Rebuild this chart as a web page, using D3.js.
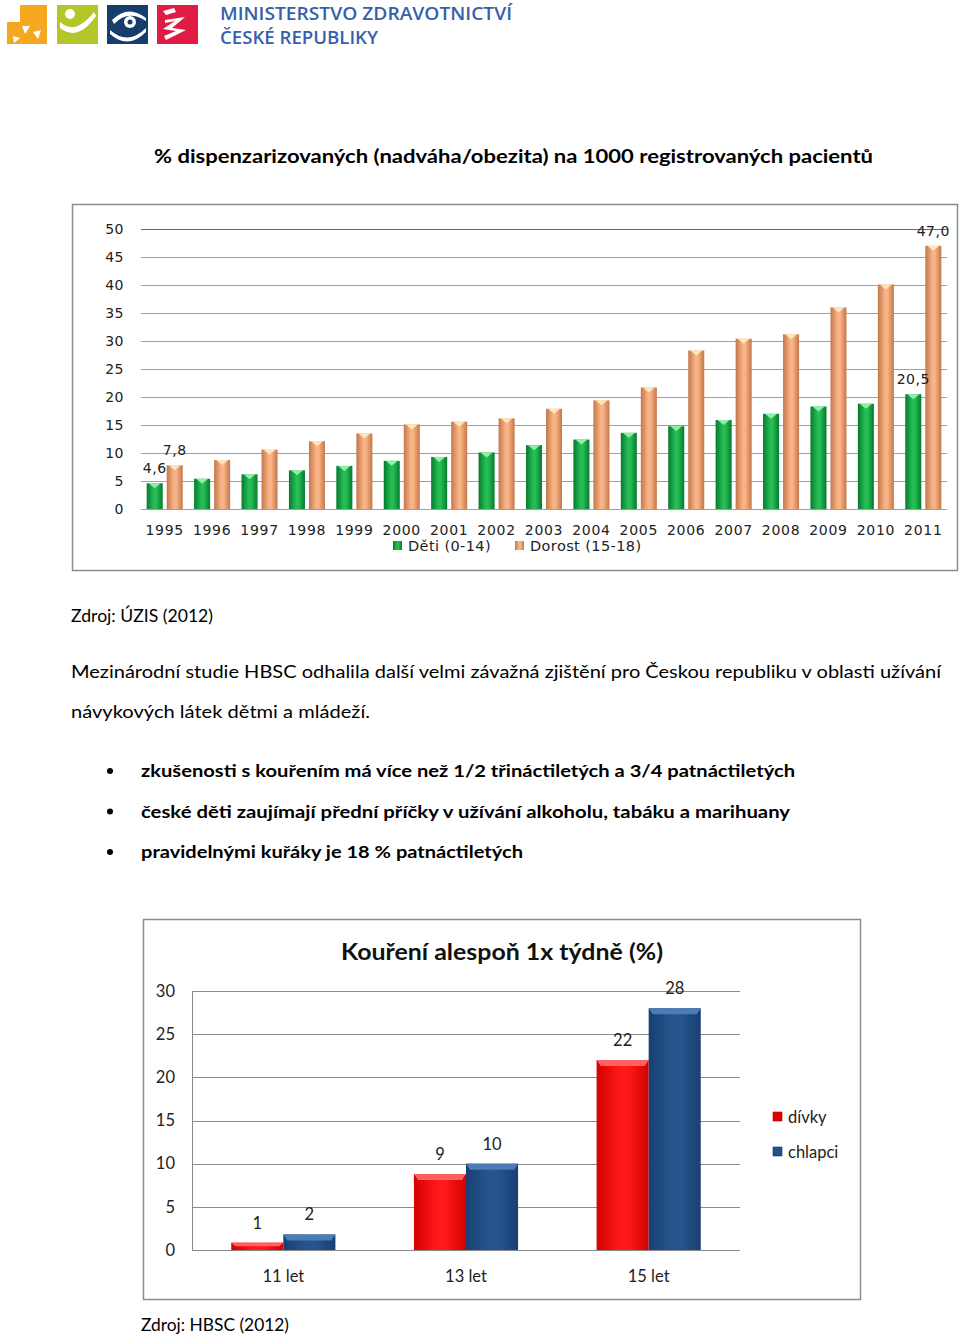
<!DOCTYPE html>
<html><head><meta charset="utf-8">
<script src="https://cdn.jsdelivr.net/npm/d3@7"></script>
<style>html,body{margin:0;padding:0;background:#fff}svg{display:block}</style>
</head><body>
<script>
// ---------- DATA ----------
const years = ["1995","1996","1997","1998","1999","2000","2001","2002","2003","2004","2005","2006","2007","2008","2009","2010","2011"];
const detiValues   = [4.6,5.4,6.2,6.9,7.7,8.6,9.3,10.1,11.4,12.4,13.6,14.8,15.9,17.0,18.3,18.8,20.5];
const dorostValues = [7.8,8.75,10.6,12.1,13.5,15.1,15.6,16.2,17.9,19.4,21.7,28.3,30.4,31.2,36.0,40.1,47.0];
const series1 = ["Děti (0-14)","Dorost (15-18)"];
const yTicks1 = [0,5,10,15,20,25,30,35,40,45,50];
const labeled1 = [["1995",0],["1995",1],["2011",0],["2011",1]];

const ages = ["11 let","13 let","15 let"];
const divkyValues = [0.85,8.8,22];
const chlapciValues = [1.8,10,28];
const series2 = ["dívky","chlapci"];
const yTicks2 = [0,5,10,15,20,25,30];

const W = 960, H = 1339;
const svg = d3.select("body").append("svg").attr("width",W).attr("height",H);
svg.append("rect").attr("width",W).attr("height",H).attr("fill","#fff");
const defs = svg.append("defs");

function hGrad(id, edge, mid){
  const g = defs.append("linearGradient").attr("id",id).attr("x1","0").attr("x2","1").attr("y1","0").attr("y2","0");
  g.append("stop").attr("offset","0%").attr("stop-color",edge);
  g.append("stop").attr("offset","45%").attr("stop-color",mid);
  g.append("stop").attr("offset","60%").attr("stop-color",mid);
  g.append("stop").attr("offset","100%").attr("stop-color",edge);
}
hGrad("gGreen","#067a2c","#26bd55");
hGrad("gOrange","#c4764a","#f8b486");
hGrad("gRed","#d40000","#ff1a1a");
hGrad("gBlue","#183f70","#27568f");

// ---------- LOGO ----------
const logo = svg.append("g");
logo.append("rect").attr("x",7).attr("y",5).attr("width",40).attr("height",39).attr("fill","#f5a81f");
logo.append("path").attr("d","M7,5 L20,5 L20,22 L7,22 Z").attr("fill","#fff");
logo.append("path").attr("d","M22,26 L30,26 L25,34 Z").attr("fill","#fff");
logo.append("path").attr("d","M33,32 L41,30 L38,39 Z").attr("fill","#fff");
logo.append("path").attr("d","M13,36 L20,38 L14,43 Z").attr("fill","#fff");
logo.append("rect").attr("x",57).attr("y",5).attr("width",41).attr("height",39).attr("fill","#b5c62a");
logo.append("circle").attr("cx",70).attr("cy",14).attr("r",5).attr("fill","#fff");
logo.append("path").attr("d","M60,22 Q75,36 94,12 L96,16 Q78,42 60,28 Z").attr("fill","#fff");
logo.append("rect").attr("x",107).attr("y",5).attr("width",41).attr("height",39).attr("fill","#153e6c");
logo.append("path").attr("d","M110,30 Q128,46 146,28 L146,32 Q128,50 110,34 Z").attr("fill","#fff");
logo.append("path").attr("d","M112,20 Q128,4 146,18 L146,21 Q128,9 114,24 Z").attr("fill","#fff");
logo.append("circle").attr("cx",130).attr("cy",22).attr("r",6).attr("fill","#fff");
logo.append("circle").attr("cx",130).attr("cy",22).attr("r",2.5).attr("fill","#153e6c");
logo.append("rect").attr("x",157).attr("y",5).attr("width",41).attr("height",39).attr("fill","#e01c45");
logo.append("path").attr("d","M163,11 L174,8 L176,12 L166,15 Z M165,20 L185,17 L172,28 L186,30 L166,40 L164,36 L176,31 L163,29 L175,21 L165,23 Z").attr("fill","#fff");
logo.append("text").attr("x",220).attr("y",20).attr("font-family","Open Sans").attr("font-weight",600).attr("font-size",18)
  .attr("fill","#3461ab").attr("textLength",292).attr("lengthAdjust","spacingAndGlyphs").text("MINISTERSTVO ZDRAVOTNICTVÍ");
logo.append("text").attr("x",220).attr("y",44).attr("font-family","Open Sans").attr("font-weight",600).attr("font-size",18)
  .attr("fill","#3461ab").attr("textLength",158).attr("lengthAdjust","spacingAndGlyphs").text("ČESKÉ REPUBLIKY");

// ---------- TEXTS ----------
function txt(x,y,s,size,opts={}){
  const t = svg.append("text").attr("x",x).attr("y",y).attr("font-family","Lato, 'Open Sans', sans-serif")
    .attr("font-size",size).attr("fill",opts.fill||"#000").text(s);
  if(opts.bold) t.attr("font-weight","bold");
  if(opts.len) t.attr("textLength",opts.len).attr("lengthAdjust","spacingAndGlyphs");
  if(opts.anchor) t.attr("text-anchor",opts.anchor);
  return t;
}
txt(154,163,"% dispenzarizovaných (nadváha/obezita) na 1000 registrovaných pacientů",19,{bold:true,len:719});
txt(71,622,"Zdroj: ÚZIS (2012)",17.5,{len:142});
txt(71,678,"Mezinárodní studie  HBSC odhalila další velmi závažná zjištění pro Českou republiku v oblasti užívání",17.5,{len:870});
txt(71,718,"návykových látek dětmi a mládeží.",17.5,{len:299});
const bullets = [["zkušenosti s kouřením má více než  1/2 třináctiletých a 3/4 patnáctiletých",654],
  ["české děti zaujímají přední příčky v užívání alkoholu, tabáku a marihuany",649],
  ["pravidelnými kuřáky je 18 % patnáctiletých",382]];
bullets.forEach((b,i)=>{
  const y = 777 + i*40.5;
  svg.append("circle").attr("cx",110).attr("cy",y-6).attr("r",3).attr("fill","#000");
  txt(141,y,b[0],17.5,{bold:true,len:b[1]});
});
txt(141,1331,"Zdroj: HBSC (2012)",17.5,{len:148});

// ---------- CHART 1 ----------
const c1 = svg.append("g");
c1.append("rect").attr("x",72.5).attr("y",204.5).attr("width",885).attr("height",366)
  .attr("fill","#fff").attr("stroke","#8c8c8c").attr("stroke-width",1.5);
const y1 = d3.scaleLinear().domain([0,50]).range([509,229]);
const x1 = d3.scaleBand().domain(years).range([141,947]).paddingInner(0.24).paddingOuter(0.12);
const xs1 = d3.scaleBand().domain(series1).range([0,x1.bandwidth()]).paddingInner(0.2);
const f1 = v => d3.format(".1f")(v).replace(".",",");

c1.append("g").selectAll("line").data(yTicks1).join("line")
  .attr("x1",141).attr("x2",947).attr("y1",d=>Math.round(y1(d))+0.5).attr("y2",d=>Math.round(y1(d))+0.5)
  .attr("stroke",d=>d===50?"#666":"#a0a0a0").attr("stroke-width",1);
const ax1 = c1.append("g").attr("transform","translate(124,0)")
  .call(d3.axisLeft(y1).tickValues(yTicks1).tickSize(0).tickPadding(0));
ax1.select(".domain").remove();
ax1.selectAll("text").attr("font-family","DejaVu Sans").attr("font-size",14).attr("fill","#222").attr("letter-spacing",0.5);
const bx1 = c1.append("g").attr("transform","translate(0,509)")
  .call(d3.axisBottom(x1).tickSize(0).tickPadding(16));
bx1.select(".domain").remove();
bx1.selectAll("text").attr("font-family","DejaVu Sans").attr("font-size",14).attr("fill","#222").attr("letter-spacing",0.7);

const rows1 = [];
years.forEach((yr,i)=>{
  rows1.push({year:yr,s:0,v:detiValues[i]});
  rows1.push({year:yr,s:1,v:dorostValues[i]});
});
const barG1 = c1.append("g").selectAll("g").data(rows1).join("g");
barG1.append("rect")
  .attr("x",d=>x1(d.year)+xs1(series1[d.s])).attr("width",xs1.bandwidth())
  .attr("y",d=>y1(d.v)).attr("height",d=>y1(0)-y1(d.v))
  .attr("fill",d=>d.s===0?"url(#gGreen)":"url(#gOrange)");
barG1.append("path")
  .attr("d",d=>{
    const x = x1(d.year)+xs1(series1[d.s]), w = xs1.bandwidth(), t = y1(d.v);
    return `M${x+2},${t} L${x+w-2},${t} L${x+w/2},${t+5} Z`;
  })
  .attr("fill",d=>d.s===0?"#8ef0a8":"#fde7b8");
c1.append("g").selectAll("text").data(labeled1).join("text")
  .attr("x",d=>x1(d[0])+xs1(series1[d[1]])+xs1.bandwidth()/2)
  .attr("y",d=>y1(d[1]===0?detiValues[years.indexOf(d[0])]:dorostValues[years.indexOf(d[0])])-10)
  .attr("text-anchor","middle").attr("font-family","DejaVu Sans").attr("font-size",14).attr("fill","#222")
  .attr("letter-spacing",0.5)
  .text(d=>f1(d[1]===0?detiValues[years.indexOf(d[0])]:dorostValues[years.indexOf(d[0])]));
// legend 1
const lg1 = c1.append("g");
const lg1x = [393,515];
series1.forEach((s,i)=>{
  lg1.append("rect").attr("x",lg1x[i]).attr("y",541).attr("width",9).attr("height",9)
    .attr("fill",i===0?"url(#gGreen)":"url(#gOrange)");
  lg1.append("text").attr("x",lg1x[i]+15).attr("y",551).attr("font-family","DejaVu Sans").attr("font-size",14.5)
    .attr("fill","#222").attr("letter-spacing",0.4).text(s);
});

// ---------- CHART 2 ----------
const c2 = svg.append("g");
c2.append("rect").attr("x",143.5).attr("y",919.5).attr("width",717).attr("height",380)
  .attr("fill","#fff").attr("stroke","#8c8c8c").attr("stroke-width",1.5);
const y2 = d3.scaleLinear().domain([0,30]).range([1250,991]);
const x2 = d3.scaleBand().domain(ages).range([192,740]).paddingInner(0.43).paddingOuter(0.215);
const xs2 = d3.scaleBand().domain(series2).range([0,x2.bandwidth()]);

c2.append("g").selectAll("line").data(yTicks2).join("line")
  .attr("x1",192).attr("x2",740).attr("y1",d=>Math.round(y2(d))+0.5).attr("y2",d=>Math.round(y2(d))+0.5)
  .attr("stroke","#8a8a8a").attr("stroke-width",1);
c2.append("line").attr("x1",192.5).attr("x2",192.5).attr("y1",991).attr("y2",1250).attr("stroke","#8a8a8a");
const ax2 = c2.append("g").attr("transform","translate(175,0)")
  .call(d3.axisLeft(y2).tickValues(yTicks2).tickSize(0).tickPadding(0));
ax2.select(".domain").remove();
ax2.selectAll("text").attr("font-family","Lato").attr("font-size",16.5).attr("fill","#222");
const bx2 = c2.append("g").attr("transform","translate(0,1250)")
  .call(d3.axisBottom(x2).tickSize(0).tickPadding(20));
bx2.select(".domain").remove();
bx2.selectAll("text").attr("font-family","Lato").attr("font-size",16.5).attr("fill","#222");

const rows2 = [];
ages.forEach((a,i)=>{
  rows2.push({age:a,s:0,v:divkyValues[i]});
  rows2.push({age:a,s:1,v:chlapciValues[i]});
});
const bg2 = c2.append("g").selectAll("g").data(rows2).join("g");
bg2.append("rect")
  .attr("x",d=>x2(d.age)+xs2(series2[d.s])).attr("width",xs2.bandwidth())
  .attr("y",d=>y2(d.v)).attr("height",d=>y2(0)-y2(d.v))
  .attr("fill",d=>d.s===0?"url(#gRed)":"url(#gBlue)");
bg2.append("path")
  .attr("d",d=>{
    const x = x2(d.age)+xs2(series2[d.s]), w = xs2.bandwidth(), t = y2(d.v);
    const h = Math.min(6,(y2(0)-t)/2);
    return `M${x},${t} L${x+w},${t} L${x+w-4},${t+h} L${x+4},${t+h} Z`;
  })
  .attr("fill",d=>d.s===0?"#ff6060":"#4d7bb8");
c2.append("g").selectAll("text").data(rows2).join("text")
  .attr("x",d=>x2(d.age)+xs2(series2[d.s])+xs2.bandwidth()/2)
  .attr("y",d=>y2(d.v)-14).attr("text-anchor","middle")
  .attr("font-family","Lato").attr("font-size",16.5).attr("fill","#222")
  .text(d=>d3.format(".0f")(d.v));
c2.append("text").attr("x",502).attr("y",960).attr("text-anchor","middle")
  .attr("font-family","Lato").attr("font-weight","bold").attr("font-size",23).attr("fill","#111")
  .attr("textLength",322).attr("lengthAdjust","spacingAndGlyphs").text("Kouření alespoň 1x týdně (%)");
series2.forEach((s,i)=>{
  const yy = 1112 + i*35;
  c2.append("rect").attr("x",773).attr("y",yy).attr("width",9).attr("height",9)
    .attr("fill",i===0?"#e00000":"#234f8a").attr("stroke",i===0?"#a00":"#163a66").attr("stroke-width",0.6);
  c2.append("text").attr("x",788).attr("y",yy+11).attr("font-family","Lato").attr("font-size",16.5)
    .attr("fill","#222").text(s);
});
</script>
</body></html>
